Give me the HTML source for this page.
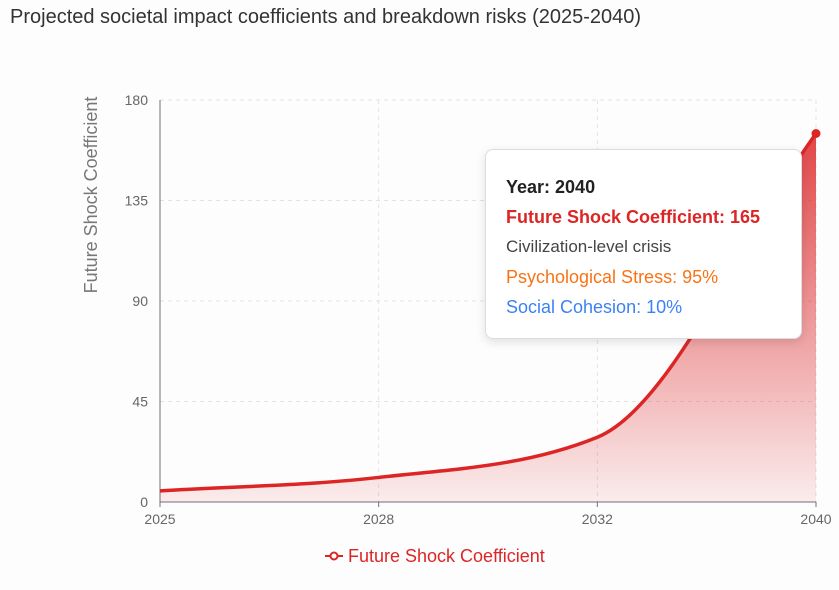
<!DOCTYPE html>
<html><head><meta charset="utf-8"><style>
body{margin:0;width:839px;height:590px;background:#fdfdfe;font-family:"Liberation Sans",sans-serif;overflow:hidden;position:relative}
.title{position:absolute;left:10px;top:6px;font-size:20px;color:#333}
.tip{position:absolute;left:485px;top:149px;width:317px;height:190px;background:#fff;border:1px solid #ddd;border-radius:8px;box-shadow:0 3px 10px rgba(0,0,0,0.12);box-sizing:border-box;padding:22px 20px;font-size:18px}
.tip div{height:30px;line-height:30px;white-space:nowrap}
</style></head><body>
<div class="title">Projected societal impact coefficients and breakdown risks (2025-2040)</div>
<svg id="c" width="839" height="590" style="position:absolute;left:0;top:0"></svg>
<div class="tip">
<div style="font-weight:bold;color:#222">Year: 2040</div>
<div style="font-weight:bold;color:#dc2626">Future Shock Coefficient: 165</div>
<div style="color:#444;font-size:17px">Civilization-level crisis</div>
<div style="color:#f97316">Psychological Stress: 95%</div>
<div style="color:#3b82f6">Social Cohesion: 10%</div>
</div>
<script>
const categories=["2025","2028","2032","2040"];
const values=[5,11,29,165];
const yTicks=[0,45,90,135,180];
const NS="http://www.w3.org/2000/svg";
const svg=document.getElementById('c');
const L=160,R=816,T=100,B=502;
const x=i=>L+i*(R-L)/(categories.length-1);
const y=v=>B-v*(B-T)/180;
function mk(t,a,p){const e=document.createElementNS(NS,t);for(const k in a)e.setAttribute(k,a[k]);(p||svg).appendChild(e);return e;}
const defs=mk('defs',{});
const g=mk('linearGradient',{id:'gr',x1:0,y1:0,x2:0,y2:1},defs);
mk('stop',{offset:'0','stop-color':'#dc2626','stop-opacity':0.85},g);
mk('stop',{offset:'1','stop-color':'#dc2626','stop-opacity':0.08},g);
yTicks.forEach(v=>{
 if(v>0){const l=mk('line',{x1:L,x2:R,y1:y(v),y2:y(v),stroke:'#e3e3e3','stroke-dasharray':'4 4'});
 }
 const t=mk('text',{x:L-12,y:y(v)+5,'text-anchor':'end','font-size':14,fill:'#666'});t.textContent=v;
 
});
categories.forEach((c,i)=>{
 if(i>0){const l=mk('line',{x1:x(i),x2:x(i),y1:T,y2:B,stroke:'#e3e3e3','stroke-dasharray':'4 4'});
 }
 mk('line',{x1:x(i),x2:x(i),y1:B,y2:B+5,stroke:'#6e7079'});
 const t=mk('text',{x:x(i),y:B+22,'text-anchor':'middle','font-size':14,fill:'#666'});t.textContent=c;
 
});
mk('line',{x1:L,x2:L,y1:T,y2:B,stroke:'#6e7079'});
mk('line',{x1:L,x2:R,y1:B,y2:B,stroke:'#6e7079'});
const px=categories.map((c,i)=>x(i)),py=values.map(v=>y(v));
const n=px.length,d=[],m=[];
for(let i=0;i<n-1;i++)d.push((py[i+1]-py[i])/(px[i+1]-px[i]));
for(let i=0;i<n;i++){if(i==0)m.push(d[0]);else if(i==n-1)m.push(d[n-2]);else m.push(d[i-1]*d[i]<=0?0:(2*d[i-1]*d[i])/(d[i-1]+d[i])*1.25);}
let p=`M${px[0]},${py[0]}`;
for(let i=0;i<n-1;i++){const h=(px[i+1]-px[i])/3;p+=` C${px[i]+h},${py[i]+m[i]*h} ${px[i+1]-h},${py[i+1]-m[i+1]*h} ${px[i+1]},${py[i+1]}`;}
const area=mk('path',{d:p+` L${px[n-1]},${B} L${px[0]},${B} Z`,fill:'url(#gr)'});

const line=mk('path',{d:p,fill:'none',stroke:'#dc2626','stroke-width':3.5});

const dot=mk('circle',{cx:px[n-1],cy:py[n-1],r:4.5,fill:'#dc2626'});

const yt=mk('text',{x:0,y:0,transform:'translate(97,195) rotate(-90)','text-anchor':'middle','font-size':18,fill:'#777'});yt.textContent='Future Shock Coefficient';

const lg=mk('g',{});
mk('line',{x1:325,x2:343,y1:556,y2:556,stroke:'#dc2626','stroke-width':2},lg);
mk('circle',{cx:334,cy:556,r:3.5,fill:'#fff',stroke:'#dc2626','stroke-width':2},lg);
const lt=mk('text',{x:348,y:562,'font-size':18,fill:'#dc2626'},lg);lt.textContent='Future Shock Coefficient';
</script>
</body></html>
